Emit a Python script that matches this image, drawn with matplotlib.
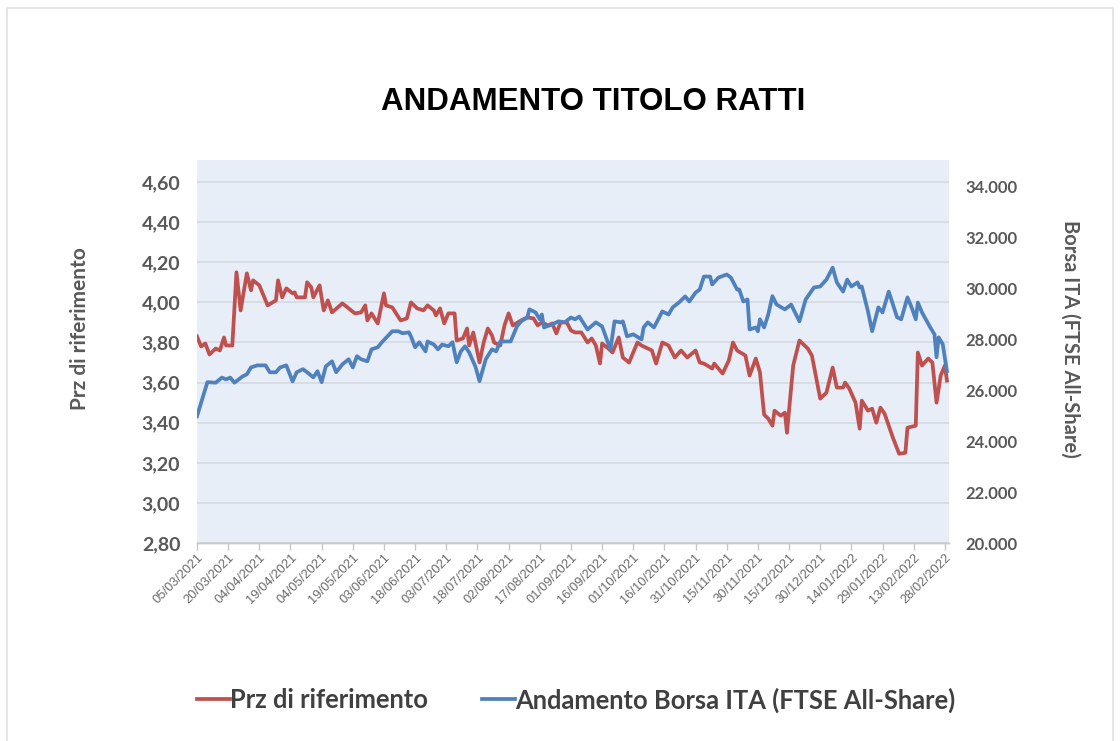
import numpy as np
import pandas as pd
import matplotlib
matplotlib.use("Agg")
import matplotlib.pyplot as plt
import matplotlib.dates as mdates
from matplotlib.ticker import FuncFormatter, FixedLocator
from matplotlib.lines import Line2D

# ---------------- data ----------------
start_date = "2021-03-05"

red_days = [0, 2, 4, 6, 9, 11, 13, 14, 17, 19, 21, 24, 26, 27, 30, 34, 38, 39, 41, 43,
            46, 47, 48, 52, 53, 55, 56, 59, 61, 63, 65, 70, 73, 76, 79, 81, 82, 84, 87, 90,
            91, 94, 98, 101, 103, 106, 109, 111, 114, 115, 117, 119, 121, 124, 125, 128, 130, 131, 133, 136,
            138, 140, 142, 143, 146, 148, 150, 152, 156, 159, 162, 164, 166, 169, 171, 173, 175, 178, 180, 182,
            185, 188, 190, 192, 194, 195, 198, 200, 203, 205, 208, 212, 214, 217, 219, 221, 224, 227, 230, 233,
            236, 240, 242, 244, 248, 249, 253, 256, 258, 260, 264, 266, 269, 271, 273, 275, 277, 278, 281, 283,
            284, 287, 290, 294, 296, 300, 303, 306, 308, 311, 312, 314, 317, 319, 320, 323, 325, 327, 329, 331,
            333, 335, 338, 341, 342, 346, 347, 349, 352, 354, 356, 358, 360, 361]
red_prices = [3.83, 3.78, 3.795, 3.74, 3.77, 3.76, 3.825, 3.785, 3.785, 4.15, 3.96, 4.145, 4.06, 4.11, 4.085, 3.985, 4.01, 4.11, 4.025, 4.07,
              4.045, 4.05, 4.025, 4.025, 4.10, 4.075, 4.025, 4.085, 3.96, 4.01, 3.95, 3.995, 3.97, 3.945, 3.95, 3.985, 3.91, 3.945, 3.895, 4.045,
              3.985, 3.975, 3.91, 3.92, 4.00, 3.97, 3.96, 3.985, 3.96, 3.935, 3.97, 3.895, 3.945, 3.945, 3.81, 3.82, 3.87, 3.785, 3.85, 3.70,
              3.80, 3.87, 3.835, 3.80, 3.785, 3.885, 3.945, 3.885, 3.91, 3.925, 3.92, 3.885, 3.90, 3.885, 3.895, 3.845, 3.90, 3.90, 3.86, 3.85,
              3.85, 3.80, 3.82, 3.785, 3.695, 3.795, 3.77, 3.75, 3.825, 3.725, 3.70, 3.80, 3.785, 3.77, 3.76, 3.695, 3.80, 3.785, 3.725, 3.76,
              3.725, 3.76, 3.70, 3.695, 3.67, 3.695, 3.645, 3.71, 3.80, 3.76, 3.735, 3.635, 3.72, 3.65, 3.44, 3.42, 3.385, 3.46, 3.435, 3.45,
              3.35, 3.685, 3.81, 3.77, 3.735, 3.52, 3.55, 3.675, 3.575, 3.575, 3.60, 3.57, 3.50, 3.37, 3.51, 3.46, 3.47, 3.40, 3.475, 3.445,
              3.385, 3.325, 3.245, 3.25, 3.375, 3.385, 3.75, 3.685, 3.72, 3.70, 3.50, 3.635, 3.685, 3.61]

blue_days = [0, 5, 9, 12, 14, 16, 18, 22, 24, 26, 29, 33, 35, 38, 40, 43, 46, 48, 51, 53,
             56, 58, 60, 62, 65, 67, 70, 73, 75, 77, 79, 82, 84, 87, 89, 94, 97, 99, 102, 103,
             105, 107, 110, 111, 114, 116, 118, 121, 123, 125, 127, 129, 131, 134, 136, 139, 142, 144, 146, 151,
             154, 156, 159, 160, 163, 165, 166, 167, 171, 174, 177, 180, 182, 184, 188, 192, 195, 199, 201, 204,
             205, 207, 210, 214, 215, 217, 220, 224, 227, 229, 232, 235, 237, 240, 242, 244, 247, 248, 251, 255,
             257, 260, 261, 263, 265, 266, 269, 270, 271, 273, 275, 277, 279, 283, 286, 290, 293, 297, 300, 303,
             306, 308, 311, 313, 315, 318, 319, 320, 323, 325, 328, 330, 333, 337, 339, 342, 344, 346, 347, 349,
             353, 355, 356, 357, 359, 361]
blue_index = [24980, 26320, 26300, 26500, 26430, 26500, 26300, 26550, 26630, 26900, 26980, 26980, 26710, 26710, 26900, 26980, 26350, 26710, 26830, 26710,
              26510, 26750, 26320, 26940, 27140, 26710, 27020, 27220, 26900, 27340, 27220, 27140, 27610, 27690, 27890, 28320, 28320, 28240, 28280, 28120,
              27690, 27890, 27530, 27920, 27800, 27610, 27800, 27730, 27890, 27100, 27530, 27730, 27490, 26940, 26360, 27220, 27610, 27530, 27920, 27920,
              28510, 28710, 28860, 29180, 29060, 28790, 28980, 28470, 28590, 28710, 28670, 28860, 28790, 28900, 28390, 28670, 28510, 27610, 28710, 28670,
              28710, 28120, 28200, 28000, 28470, 28670, 28470, 29100, 28980, 29260, 29450, 29690, 29490, 29840, 29960, 30470, 30470, 30160, 30430, 30550,
              30430, 29960, 29960, 29490, 29570, 28390, 28470, 28320, 28790, 28470, 28980, 29700, 29370, 29180, 29370, 28710, 29570, 30040, 30080, 30350,
              30820, 30240, 29880, 30350, 30080, 30240, 30040, 30080, 29100, 28320, 29260, 29060, 29880, 28870, 28790, 29650, 29260, 28790, 29450, 29060,
              28470, 28200, 27300, 28080, 27810, 26750]

title_text = "ANDAMENTO TITOLO RATTI"
left_label = "Prz di riferimento"
right_label = "Borsa ITA (FTSE All-Share)"
red_name = "Prz di riferimento"
blue_name = "Andamento Borsa ITA (FTSE All-Share)"

# ---------------- drawing ----------------
RED = "#C0504D"
BLUE = "#4F81BD"
GRID = "#D5D9DF"
TXT = "#595959"
BG = "#E7EEF8"
LW = 2.7

t0 = pd.Timestamp(start_date)
red_dates = t0 + pd.to_timedelta(red_days, unit="D")
blue_dates = t0 + pd.to_timedelta(blue_days, unit="D")

fig = plt.figure(figsize=(11.2, 7.41), dpi=100)
fig.patch.set_facecolor("white")

# chart-area border
fig.add_artist(plt.Rectangle((7 / 1120, -0.05), (1113 - 7) / 1120, 1 - 8 / 741 + 0.05,
                             transform=fig.transFigure, fill=False, edgecolor="#E2E2E2", lw=1.2))

ax = fig.add_axes([197 / 1120, 1 - 543 / 741, (949 - 197) / 1120, (543 - 160) / 741])
ax.set_facecolor(BG)
ax2 = ax.twinx()

ax.plot(red_dates, red_prices, color=RED, lw=LW, solid_joinstyle="round", zorder=3)
ax2.plot(blue_dates, blue_index, color=BLUE, lw=LW, solid_joinstyle="round", zorder=3)

ax.set_ylim(2.80, 4.71)
ax.yaxis.set_major_locator(FixedLocator(np.arange(2.80, 4.61, 0.20)))
ax.yaxis.set_major_formatter(FuncFormatter(lambda v, p: f"{v:.2f}".replace(".", ",")))
ax2.set_ylim(20000, 35050)
ax2.yaxis.set_major_locator(FixedLocator(np.arange(20000, 34001, 2000)))
ax2.yaxis.set_major_formatter(FuncFormatter(lambda v, p: f"{int(round(v)):,}".replace(",", ".")))

ax.set_xlim(t0, t0 + pd.Timedelta(days=362))
xt = [t0 + pd.Timedelta(days=15 * k) for k in range(25)]
ax.set_xticks(xt)
ax.xaxis.set_major_formatter(mdates.DateFormatter("%d/%m/%Y"))

ax.grid(axis="y", color=GRID, lw=1.2)
ax.set_axisbelow(True)
for a in (ax, ax2):
    for s in ("top", "left", "right"):
        a.spines[s].set_visible(False)
    a.spines["bottom"].set_color("#C8C8C8")
    a.spines["bottom"].set_linewidth(1.0)

ax.tick_params(axis="y", length=0, pad=12, labelsize=14, labelcolor=TXT)
ax2.tick_params(axis="y", length=0, pad=12, labelsize=12, labelcolor=TXT)
for lab in ax.get_yticklabels():
    lab.set_fontfamily("Lato"); lab.set_fontweight("bold")
for lab in ax2.get_yticklabels():
    lab.set_fontfamily("Lato"); lab.set_fontweight("bold")

ax.tick_params(axis="x", length=5, color="#C8C8C8", width=1, pad=1,
               labelsize=9.3, labelcolor="#6A6A6A")
for lab in ax.get_xticklabels():
    lab.set_rotation(45)
    lab.set_ha("right")
    lab.set_rotation_mode("anchor")
    lab.set_fontfamily("Liberation Sans")

fig.text(593 / 1120, 1 - 102 / 741, title_text, ha="center", va="center",
         fontsize=22.5, fontweight="bold", family="Liberation Sans", color="black")
fig.text(80 / 1120, 1 - 329 / 741, left_label, ha="center", va="center", rotation=90,
         fontsize=15, fontweight="bold", family="Lato", color=TXT)
fig.text(1070 / 1120, 1 - 339 / 741, right_label, ha="center", va="center", rotation=-90,
         fontsize=14.5, fontweight="bold", family="Lato", color=TXT)

handles = [Line2D([], [], color=RED, lw=LW), Line2D([], [], color=BLUE, lw=LW)]
fig.legend(handles, [red_name, blue_name], loc="center", bbox_to_anchor=(576 / 1120, 1 - 700 / 741),
           ncol=2, frameon=False, handlelength=1.3, handletextpad=0.0, columnspacing=2.1,
           prop={"family": "Lato", "weight": "bold", "size": 18.4}, labelcolor="#404040")

fig.savefig("out.png", dpi=100)
